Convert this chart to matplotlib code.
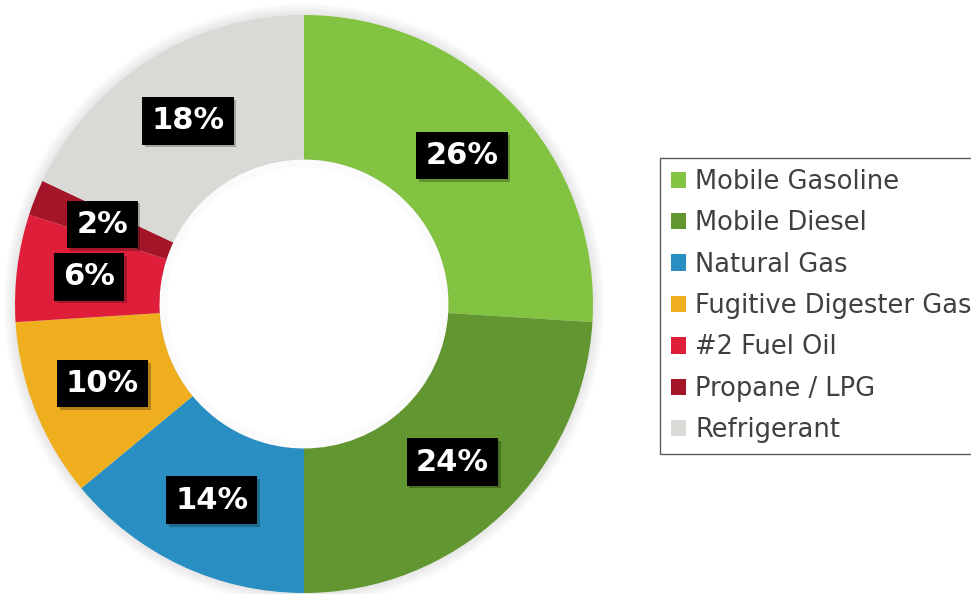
import matplotlib.pyplot as plt
from matplotlib.patches import Circle, Patch
import matplotlib.patheffects as pe
import numpy as np

# emissões por fonte (%)
categorias = ['Mobile Gasoline', 'Mobile Diesel', 'Natural Gas', 'Fugitive Digester Gas',
              '#2 Fuel Oil', 'Propane / LPG', 'Refrigerant']
valores = [26, 24, 14, 10, 6, 2, 18]
cores = ['#82C341', '#619630', '#298FC2', '#EFAE1E', '#DF1F3A', '#A5152A', '#D9D9D5']

fig = plt.figure(figsize=(9.71, 5.94), dpi=100)
ax = fig.add_axes([15 / 971, 1 / 594, 578 / 971, 578 / 594])

# sombra suave em volta do anel
for i in range(8):
    ax.add_patch(Circle((0, 0), 1.0 + 0.005 * (i + 1), color='k', alpha=0.012, lw=0,
                        zorder=0, clip_on=False))
# buraco branco por cima da sombra
ax.add_patch(Circle((0, 0), 0.5, color='white', lw=0, zorder=0.5))

wedges, _ = ax.pie(valores, colors=cores, startangle=90, counterclock=False,
                   radius=1.0, wedgeprops=dict(width=0.5, linewidth=0))

# sombra interna leve no buraco
for i in range(6):
    ax.add_patch(Circle((0, 0), 0.5 - 0.005 * i, fill=False, ec='k', alpha=0.012, lw=1.5, zorder=6))

# rótulos com caixa preta
acum = np.cumsum([0] + valores)
for i, v in enumerate(valores):
    meio = 90 - 3.6 * (acum[i] + v / 2)
    x = 0.75 * np.cos(np.radians(meio))
    y = 0.75 * np.sin(np.radians(meio))
    t = ax.text(x, y, f'{v}%', ha='center', va='center', color='white', fontsize=22,
                fontweight='bold', zorder=10,
                bbox=dict(boxstyle='square,pad=0.3', fc='black', ec='none'))
    t.get_bbox_patch().set_path_effects([pe.SimplePatchShadow(offset=(2, -2), alpha=0.25), pe.Normal()])

ax.set_xlim(-1, 1)
ax.set_ylim(-1, 1)
ax.set_aspect('equal')
ax.axis('off')

handles = [Patch(facecolor=c, edgecolor='none') for c in cores]
leg = fig.legend(handles, categorias, loc='upper left', bbox_to_anchor=(660 / 971, 1 - 158 / 594),
                 fontsize=18.5, frameon=True, fancybox=False, edgecolor='#333333',
                 handlelength=0.6, handleheight=0.6, handletextpad=0.35,
                 labelspacing=0.6, borderpad=0.42, borderaxespad=0)
leg.get_frame().set_linewidth(1)
for txt in leg.get_texts():
    txt.set_color('#404040')

fig.savefig('out.png', dpi=100)
